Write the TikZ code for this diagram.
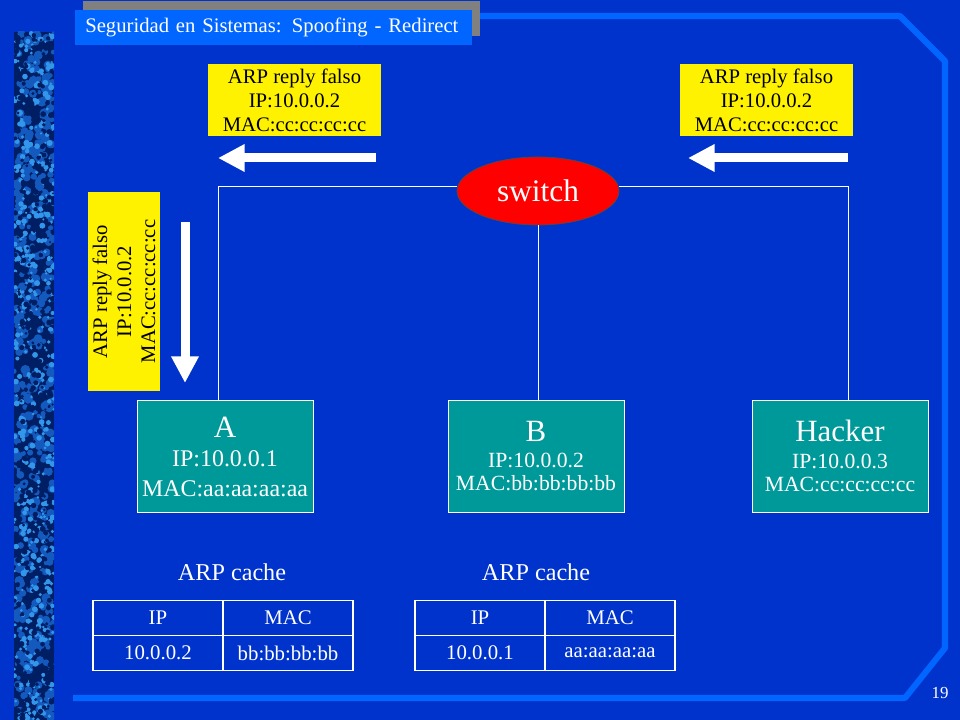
\documentclass[tikz,border=0pt]{standalone}
\usepackage{fontspec}
\setmainfont{Liberation Serif}
\usetikzlibrary{arrows.meta,positioning,shapes.geometric}

\definecolor{slideblue}{RGB}{0,51,204}
\definecolor{frameblue}{RGB}{0,102,255}
\definecolor{devteal}{RGB}{0,153,153}
\definecolor{texdark}{RGB}{0,30,100}
\definecolor{texmid}{RGB}{20,90,190}
\definecolor{texlight}{RGB}{50,150,235}
\definecolor{bargray}{RGB}{128,128,128}

\begin{document}
\begin{tikzpicture}[x=0.025cm,y=-0.025cm,
    frame/.style={frameblue, line width=4.3pt, line join=round},
    titlebox/.style={fill=frameblue, text=white, text width=9.425cm, inner xsep=0.25cm,
        minimum height=0.875cm, align=left, font=\fontsize{14.7}{17}\selectfont},
    msg/.style={fill=yellow, text=black, minimum width=4.325cm, minimum height=1.8cm,
        inner sep=0pt, align=center, font=\fontsize{14.7}{17}\selectfont},
    device/.style={fill=devteal, draw=white, line width=0.6pt, text=white,
        minimum width=4.4cm, minimum height=2.8cm, inner sep=0pt, align=center},
    switchnode/.style={ellipse, fill=red, draw=black!70, line width=0.5pt, text=white,
        minimum width=4.05cm, minimum height=1.7cm, inner sep=0pt,
        font=\fontsize{22.3}{26}\selectfont},
    link/.style={white, line width=0.7pt},
    bigarrow/.style={white, line width=6.4pt, -{Triangle[length=19pt,width=18.5pt]}},
    cachelabel/.style={text=white, font=\fontsize{17.2}{20}\selectfont},
    cell/.style={draw=white, line width=1.4pt, text=white, outer sep=0pt, inner sep=0pt,
        minimum width=3.25cm, minimum height=0.875cm, font=\fontsize{14.8}{17}\selectfont},
    pagenum/.style={text=white, font=\fontsize{12}{14}\selectfont},
    ]

    % Background
    \fill[slideblue] (0,0) rectangle (960,720);

    % Textured stripe on the left
    \begin{scope}
        \clip (14,32) rectangle (54,720);
        \fill[texdark] (14,32) rectangle (54,720);
        \pgfmathsetseed{19}
        \foreach \i in {1,...,500}{
            \pgfmathsetmacro\px{14+40*rnd}
            \pgfmathsetmacro\py{32+688*rnd}
            \pgfmathsetmacro\pr{1.5+2*rnd}
            \fill[texmid] (\px,\py) circle[radius=\pr pt];
        }
        \foreach \i in {1,...,500}{
            \pgfmathsetmacro\px{14+40*rnd}
            \pgfmathsetmacro\py{32+688*rnd}
            \pgfmathsetmacro\pr{0.8+1.4*rnd}
            \fill[texlight] (\px,\py) circle[radius=\pr pt];
        }
        \foreach \i in {1,...,350}{
            \pgfmathsetmacro\px{14+40*rnd}
            \pgfmathsetmacro\py{32+688*rnd}
            \pgfmathsetmacro\pr{0.8+1.4*rnd}
            \fill[texdark] (\px,\py) circle[radius=\pr pt];
        }
    \end{scope}

    % Frame
    \draw[frame] (470,16) -- (900,16) -- (945,61) -- (945,648) -- (905,698) -- (73,698);

    % Title
    \fill[bargray] (83,1) rectangle (480,36);
    \node[titlebox, anchor=north west] (title) at (75,10) {\mbox{Seguridad en Sistemas: Spoofing - Redirect}};

    % Fake replies
    \node[msg] (msgL) at (294.5,100) {ARP reply falso\\IP:10.0.0.2\\MAC:cc:cc:cc:cc};
    \node[msg] (msgR) at (766.5,100) {ARP reply falso\\IP:10.0.0.2\\MAC:cc:cc:cc:cc};
    \node[msg, rotate=90, minimum width=4.975cm] (msgV) at (124,291.5) {ARP reply falso\\IP:10.0.0.2\\MAC:cc:cc:cc:cc};

    % Arrows
    \coordinate (arrL1) at (376,158);
    \coordinate (arrL2) at (218,158);
    \coordinate (arrR1) at (848,158);
    \coordinate (arrR2) at (688,158);
    \coordinate (arrV1) at (185,222);
    \coordinate (arrV2) at (185,383);
    \draw[bigarrow] (arrL1) -- (arrL2);
    \draw[bigarrow] (arrR1) -- (arrR2);
    \draw[bigarrow] (arrV1) -- (arrV2);

    % Switch and hosts
    \node[switchnode] (sw) at (538,191) {switch};
    \node[device, font=\fontsize{17}{21}\selectfont] (A) at (225,456.5)
        {{\fontsize{22}{22}\selectfont A}\\IP:10.0.0.1\\MAC:aa:aa:aa:aa};
    \node[device, font=\fontsize{15.4}{16.5}\selectfont] (B) at (536,456)
        {{\fontsize{22}{22}\selectfont B}\\[2.5pt]IP:10.0.0.2\\MAC:bb:bb:bb:bb};
    \node[device, font=\fontsize{15.4}{16.5}\selectfont] (H) at (840,456)
        {{\fontsize{22}{22}\selectfont Hacker}\\[2.5pt]IP:10.0.0.3\\MAC:cc:cc:cc:cc};

    % Cabling
    \coordinate (busL) at (218,186);
    \coordinate (busR) at (848,186);
    \draw[link] (A.north -| busL) -- (busL) -- (sw.west |- busL);
    \draw[link] (sw.east |- busR) -- (busR) -- (H.north -| busR);
    \draw[link] (sw.south) -- (sw.south |- B.north);

    % ARP caches
    \node[cachelabel] (cacheA) at (232,572) {ARP cache};
    \node[cachelabel] (cacheB) at (536,572) {ARP cache};

    \node[cell] (tA1) at (158,618) {IP};
    \node[cell, right=0pt of tA1] (tA2) {MAC};
    \node[cell, below=0pt of tA1] (tA3) {10.0.0.2};
    \node[cell, right=0pt of tA3] (tA4) {bb:bb:bb:bb};

    \node[cell] (tB1) at (480,618) {IP};
    \node[cell, right=0pt of tB1] (tB2) {MAC};
    \node[cell, below=0pt of tB1] (tB3) {10.0.0.1};
    \node[cell, right=0pt of tB3] (tB4) {aa:aa:aa:aa};

    % Page number
    \node[pagenum] (pg) at (940,693) {19};
\end{tikzpicture}
\end{document}
